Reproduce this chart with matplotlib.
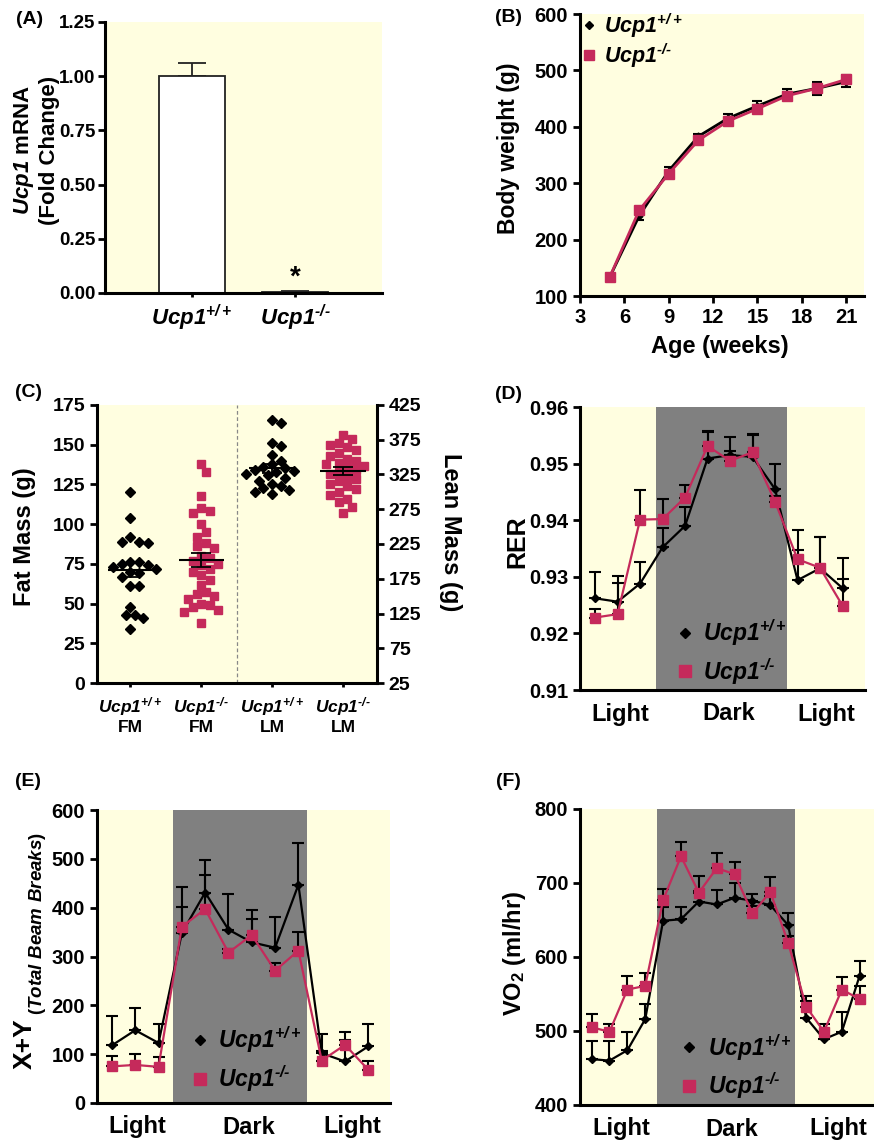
import numpy as np
import matplotlib
matplotlib.use("Agg")
import matplotlib.pyplot as plt
from matplotlib.lines import Line2D
from matplotlib.ticker import FormatStrFormatter

plt.rcParams['font.family'] = 'Liberation Sans'
plt.rcParams['font.weight'] = 'bold'
plt.rcParams['mathtext.fontset'] = 'custom'
plt.rcParams['mathtext.rm'] = 'Liberation Sans:italic:bold'
plt.rcParams['mathtext.it'] = 'Liberation Sans:italic:bold'
plt.rcParams['mathtext.bf'] = 'Liberation Sans:bold'
plt.rcParams['axes.linewidth'] = 2.2
plt.rcParams['xtick.major.width'] = 2
plt.rcParams['ytick.major.width'] = 2
plt.rcParams['xtick.major.size'] = 5
plt.rcParams['ytick.major.size'] = 5
plt.rcParams['xtick.labelsize'] = 14.5
plt.rcParams['ytick.labelsize'] = 14.5

YELLOW = '#FFFEE0'
GRAY = '#808080'
RED = '#C52A5B'

WT = r'$Ucp1^{+/+}$'
KO = '$Ucp1^{\u2010/\u2010}$'

# (A) Ucp1 mRNA
mrna_groups = [WT, KO]
mrna_mean = [1.0, 0.004]
mrna_sem = [0.06, 0.003]

# (B) body weight
age_weeks = [5, 7, 9, 11, 13, 15, 17, 19, 21]
bw_wt = [133, 242, 322, 383, 415, 437, 458, 468, 480]
bw_wt_sem = [4, 8, 6, 4, 8, 8, 9, 11, 10]
bw_ko = [133, 252, 317, 376, 410, 432, 455, 468, 484]
bw_ko_sem = [3, 5, 5, 5, 6, 6, 6, 8, 7]

# (C) fat mass / lean mass
comp_labels = [WT + "\nFM", KO + "\nFM", WT + "\nLM", KO + "\nLM"]
fm_wt = [120, 104, 92, 89, 88, 89, 76, 75, 76, 74, 73, 72, 70, 69, 67, 61, 61, 48, 43, 43, 41, 34]
fm_ko = [138, 133, 118, 110, 108, 107, 100, 95, 92, 88, 86, 85, 80, 79, 77, 75, 74, 72, 70, 68,
         65, 62, 57, 56, 55, 53, 50, 49, 48, 46, 45, 38]
lm_wt = [404, 399, 371, 366, 353, 345, 340, 336, 334, 332, 330, 328, 326, 324, 320, 316, 312,
         308, 305, 302, 300, 297]
lm_ko = [382, 376, 371, 368, 364, 360, 356, 352, 348, 345, 342, 340, 337, 335, 332, 328, 325,
         322, 318, 315, 312, 308, 304, 300, 296, 290, 285, 278, 270]

# (D) RER, 12 bins
rer_wt = [0.9262, 0.9256, 0.9288, 0.9352, 0.9390, 0.9509, 0.9515, 0.9512, 0.9455, 0.9294, 0.9315, 0.9280]
rer_wt_sem = [0.0047, 0.0045, 0.0039, 0.0034, 0.0033, 0.0046, 0.0032, 0.0040, 0.0044, 0.0054, 0.0055, 0.0053]
rer_ko = [0.9228, 0.9234, 0.9401, 0.9402, 0.9440, 0.9531, 0.9505, 0.9520, 0.9433, 0.9331, 0.9316, 0.9249]
rer_ko_sem = [0.0015, 0.0055, 0.0052, 0.0035, 0.0022, 0.0026, 0.0018, 0.0030, 0.0010, 0.0052, 0.0055, 0.0047]

# (E) activity, 12 bins
act_wt = [118, 149, 123, 348, 431, 355, 329, 318, 447, 102, 85, 116]
act_wt_sem = [61, 45, 39, 94, 67, 72, 66, 62, 86, 40, 61, 46]
act_ko = [75, 78, 74, 361, 397, 308, 344, 271, 312, 87, 119, 68]
act_ko_sem = [22, 22, 21, 41, 70, 8, 32, 15, 39, 19, 10, 19]

# (F) VO2, 16 bins
vo2_wt = [462, 460, 474, 516, 649, 651, 675, 671, 680, 676, 670, 643, 518, 489, 499, 575]
vo2_wt_sem = [24, 27, 24, 21, 19, 16, 14, 19, 20, 9, 12, 17, 23, 10, 27, 20]
vo2_ko = [505, 499, 556, 561, 677, 736, 687, 720, 712, 659, 688, 619, 533, 499, 556, 543]
vo2_ko_sem = [18, 11, 19, 18, 15, 20, 23, 20, 17, 10, 20, 10, 14, 10, 17, 18]

cycle_labels = ['Light', 'Dark', 'Light']

W, H = 874, 1144
fig = plt.figure(figsize=(W / 100, H / 100), dpi=100)


def box(l, t, r, b):
    return [l / W, 1 - b / H, (r - l) / W, (b - t) / H]


def ftext(x, y, s, size, rot=0, **kw):
    fig.text(x / W, 1 - y / H, s, fontsize=size, rotation=rot, ha='center', va='center',
             fontweight='bold', **kw)


def style(ax, spines=('left', 'bottom')):
    ax.set_facecolor(YELLOW)
    for s in ['left', 'right', 'top', 'bottom']:
        ax.spines[s].set_visible(s in spines)
    ax.tick_params(direction='out')


def leg_handles(ms_d, ms_s):
    return [Line2D([], [], ls='none', marker='D', color='black', ms=ms_d),
            Line2D([], [], ls='none', marker='s', color=RED, ms=ms_s)]


# ---- (A)
ax = fig.add_axes(box(105, 22, 382, 293))
style(ax)
xa = np.arange(len(mrna_groups))
ax.bar(xa, mrna_mean, width=0.65, color='white', edgecolor='#222222', lw=1.3, zorder=2)
ax.errorbar(xa, mrna_mean, yerr=[np.zeros(len(xa)), mrna_sem], fmt='none', ecolor='#222222',
            elinewidth=1.3, capsize=10, capthick=1.3, zorder=1)
ax.text(xa[1], 0.04, '*', ha='center', va='baseline', fontsize=20)
ax.set_xlim(-0.845, 1.845)
ax.set_ylim(0, 1.25)
ax.set_yticks(np.arange(0, 1.26, 0.25))
ax.yaxis.set_major_formatter(FormatStrFormatter('%.2f'))
ax.tick_params(axis='y', labelsize=13.5, pad=2)
ax.set_xticks(xa)
ax.set_xticklabels(mrna_groups, fontsize=16)
ax.tick_params(axis='x', length=3, pad=4)
ftext(36, 150, r"$Ucp1$ mRNA" + "\n(Fold Change)", 16, 90, linespacing=1.15)
ftext(30, 20, '(A)', 14)

# ---- (B)
ax = fig.add_axes(box(580, 14, 864, 296))
style(ax)
ax.errorbar(age_weeks, bw_wt, yerr=bw_wt_sem, color='black', marker='D', ms=3.5, lw=2,
            ecolor='black', elinewidth=1.5, capsize=3.5, capthick=1.5, zorder=3)
ax.errorbar(age_weeks, bw_ko, yerr=bw_ko_sem, color=RED, marker='s', ms=6.5, lw=2,
            ecolor='black', elinewidth=1.5, capsize=3.5, capthick=1.5, zorder=4)
ax.set_xlim(3, 22.2)
ax.set_ylim(100, 600)
ax.set_xticks(np.arange(3, 22, 3))
ax.set_yticks(np.arange(100, 601, 100))
ax.legend(leg_handles(4, 7.5), [WT, KO], loc='upper left', bbox_to_anchor=(-0.03, 1.04),
          frameon=False, fontsize=15.5, handlelength=0.8, handletextpad=0.3, labelspacing=0.05,
          borderaxespad=0)
ftext(509, 148, 'Body weight (g)', 16.5, 90)
ftext(720, 347, 'Age (weeks)', 17)
ftext(508, 17, '(B)', 14)

# ---- (C)
axc = fig.add_axes(box(97, 405, 377, 683))
style(axc, ('left', 'bottom'))
axc.set_xlim(-0.47, 3.48)
axc.set_ylim(0, 175)
axc.set_yticks(np.arange(0, 176, 25))
axc.tick_params(axis='y', labelsize=14)
axr = axc.twinx()
for s in ['left', 'top', 'bottom']:
    axr.spines[s].set_visible(False)
axr.set_ylim(25, 425)
axr.set_yticks(np.arange(25, 426, 50))
axr.tick_params(axis='y', labelsize=14, direction='out')
axc.axvline(1.5, color='#888888', ls=(0, (3, 2)), lw=0.9, zorder=1)


def swarm_x(ax, xc, vals, d):
    pts = ax.transData.transform(np.column_stack([np.full(len(vals), xc), vals]))
    xs = np.zeros(len(vals))
    placed = []
    for i in np.argsort(vals)[::-1]:
        px0, py = pts[i]
        off = 0.0
        for k in range(80):
            off = ((k + 1) // 2) * (1 if k % 2 else -1) * d * 0.5
            if all((off - o) ** 2 + (py - q) ** 2 >= d * d for o, q in placed):
                break
        placed.append((off, py))
        xs[i] = px0 + off
    inv = ax.transData.inverted()
    return inv.transform(np.column_stack([xs, pts[:, 1]]))[:, 0]


groups = [(axc, 0, fm_wt, 'D', 'black', 5.0), (axc, 1, fm_ko, 's', RED, 6.2),
          (axr, 2, lm_wt, 'D', 'black', 5.0), (axr, 3, lm_ko, 's', RED, 6.2)]
for a, xc, vals, mk, col, ms in groups:
    vals = np.array(vals, dtype=float)
    xs = swarm_x(a, xc, vals, 8.6)
    a.plot(xs, vals, ls='none', marker=mk, color=col, ms=ms, zorder=3)
    m = vals.mean()
    sem = vals.std(ddof=1) / np.sqrt(len(vals))
    a.hlines(m, xc - 0.32, xc + 0.32, color='black', lw=1.5, zorder=4)
    a.errorbar([xc], [m], yerr=[sem], fmt='none', ecolor='black', elinewidth=1.3, capsize=7,
               capthick=1.3, zorder=4)
axc.set_xticks(range(len(comp_labels)))
axc.set_xticklabels(comp_labels, fontsize=12.5, linespacing=1.1)
axc.tick_params(axis='x', length=3, pad=6)
ftext(25, 537, 'Fat Mass (g)', 17, 90)
ftext(451, 532, 'Lean Mass (g)', 17, 270)
ftext(28, 392, '(C)', 14)


# ---- (D), (E), (F)
def cycle_panel(rect, wt, wt_e, ko, ko_e, xlim, dark, ylim, ystep, fmt, lab_x, leg_xy,
                ms_d, ms_s):
    ax = fig.add_axes(rect)
    style(ax)
    x = np.arange(1, len(wt) + 1)
    ax.axvspan(dark[0], dark[1], color=GRAY, lw=0, zorder=0)
    zero = np.zeros(len(x))
    ax.errorbar(x, wt, yerr=[zero, wt_e], color='black', marker='D', ms=ms_d, lw=1.6,
                ecolor='black', elinewidth=1.5, capsize=4, capthick=1.5, zorder=3)
    ax.errorbar(x, ko, yerr=[zero, ko_e], color=RED, marker='s', ms=ms_s, lw=1.6,
                ecolor='black', elinewidth=1.5, capsize=4, capthick=1.5, zorder=4)
    ax.set_xlim(*xlim)
    ax.set_ylim(*ylim)
    ax.set_yticks(np.arange(ylim[0], ylim[1] + ystep / 2, ystep))
    ax.yaxis.set_major_formatter(FormatStrFormatter(fmt))
    ax.set_xticks(lab_x)
    ax.set_xticklabels(cycle_labels, fontsize=17)
    ax.tick_params(axis='x', length=0, pad=9)
    ax.legend(leg_handles(5, 8), [WT, KO], loc='center', bbox_to_anchor=leg_xy, frameon=False,
              fontsize=16.5, handlelength=0.8, handletextpad=0.4, labelspacing=0.35)
    return ax


cycle_panel(box(580, 407, 865, 690), rer_wt, rer_wt_sem, rer_ko, rer_ko_sem,
            (0.33, 13.0), (3.73, 9.55), (0.91, 0.96), 0.01, '%.2f', [2.1, 6.95, 11.3],
            (0.53, 0.135), 4.2, 7.0)
ftext(517, 542, 'RER', 18, 90)
ftext(508, 395, '(D)', 14)

cycle_panel(box(97, 810, 390, 1103), act_wt, act_wt_sem, act_ko, act_ko_sem,
            (0.36, 12.93), (3.61, 9.39), (0, 600), 100, '%d', [2.07, 6.86, 11.3],
            (0.51, 0.15), 4.2, 7.0)
ftext(25, 1044, 'X+Y', 19, 90)
ftext(38, 923, '(' + r'$Total\ Beam\ Breaks$' + ')', 13.5, 90)
ftext(28, 782, '(E)', 14)

cycle_panel(box(580, 809, 874, 1105), vo2_wt, vo2_wt_sem, vo2_ko, vo2_ko_sem,
            (0.35, 16.8), (4.67, 12.37), (400, 800), 100, '%d', [2.68, 8.85, 14.8],
            (0.53, 0.13), 4.0, 6.8)
ftext(514, 953, r'VO$_\mathbf{2}$ (ml/hr)', 17, 90)
ftext(508, 782, '(F)', 14)

fig.savefig('out.png', dpi=100)
